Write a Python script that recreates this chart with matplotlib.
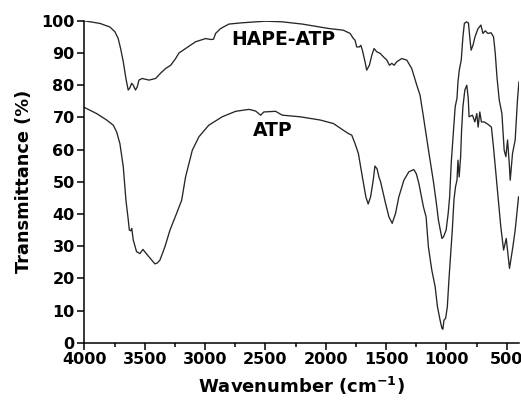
import numpy as np
import matplotlib
matplotlib.use('Agg')
import matplotlib.pyplot as plt
from matplotlib.ticker import MultipleLocator

# FTIR 光谱数据
hape_wn = [4000, 3950, 3871, 3789, 3747, 3720, 3700, 3678, 3656, 3637, 3623, 3609,
           3595, 3585, 3577, 3562, 3548, 3521, 3465, 3410, 3370, 3327, 3285, 3244,
           3217, 3162, 3079, 2996, 2950, 2930, 2913, 2872, 2803, 2693, 2499, 2361,
           2195, 1971, 1855, 1799, 1771, 1758, 1744, 1722, 1710, 1697, 1675, 1661,
           1639, 1619, 1600, 1578, 1550, 1522, 1494, 1473, 1453, 1434, 1412, 1370,
           1329, 1288, 1246, 1219, 1191, 1149, 1108, 1080, 1067, 1038, 1025, 1003,
           986, 974, 961, 942, 928, 913, 905, 894, 878, 864, 852, 835, 818, 805,
           796, 780, 764, 740, 715, 698, 679, 657, 630, 610, 596, 582, 563, 541,
           522, 508, 494, 480, 472, 453, 431, 412, 400]
hape_t = [100, 99.7, 99.2, 98.1, 96.6, 94.5, 91.4, 87.3, 82.1, 78.5, 79.2, 80.6,
          80.0, 79.2, 78.5, 79.5, 81.6, 82.1, 81.6, 82.1, 83.7, 85.2, 86.2, 88.3,
          90.0, 91.4, 93.5, 94.5, 94.2, 94.3, 96.1, 97.6, 99.0, 99.4, 99.9, 99.7,
          99.0, 97.6, 97.1, 96.1, 94.5, 94.0, 91.9, 91.9, 92.4, 90.9, 87.3, 84.7,
          86.2, 89.3, 91.4, 90.4, 89.9, 88.8, 87.8, 86.2, 86.8, 86.2, 87.3, 88.3,
          87.8, 85.2, 80.0, 76.9, 70.2, 59.8, 50.0, 42.2, 38.1, 32.4, 32.9, 35.0,
          40.2, 45.3, 55.7, 66.0, 73.3, 76.0, 81.0, 84.7, 87.8, 95.0, 99.2, 99.7, 99.3, 94.0,
          90.9, 92.5, 95.0, 97.5, 98.7, 96.1, 96.9, 96.1, 96.3, 95.0, 89.9, 82.6, 75.4, 71.2,
          59.8, 57.8, 63.0, 55.7, 50.5, 58.8, 63.0, 75.4, 81.0]

atp_wn = [4000, 3899, 3816, 3761, 3733, 3706, 3678, 3656, 3636, 3628, 3615, 3608,
          3595, 3568, 3540, 3515, 3490, 3443, 3415, 3395, 3374, 3333, 3291, 3236,
          3194, 3162, 3106, 3051, 2969, 2858, 2747, 2637, 2582, 2540, 2513, 2416,
          2361, 2213, 2047, 1937, 1854, 1813, 1785, 1758, 1730, 1702, 1690, 1668,
          1649, 1629, 1607, 1593, 1575, 1560, 1546, 1505, 1477, 1450, 1422, 1395,
          1353, 1312, 1271, 1250, 1229, 1191, 1169, 1150, 1122, 1094, 1075, 1053,
          1038, 1030, 1021, 1007, 993, 980, 952, 938, 925, 913, 905, 895, 883,
          875, 864, 848, 832, 820, 813, 785, 765, 749, 738, 724, 711, 688, 666,
          647, 628, 611, 578, 550, 527, 505, 478, 450, 431, 403]
atp_t = [73.1, 71.2, 69.2, 67.6, 65.5, 61.9, 54.7, 44.3, 38.0, 35.0, 34.8, 35.5,
         31.9, 28.3, 27.7, 29.0, 27.8, 25.7, 24.5, 24.8, 25.7, 29.8, 35.0, 40.2,
         44.3, 51.5, 59.8, 64.0, 67.6, 70.2, 71.9, 72.5, 72.0, 70.7, 71.7, 71.9,
         70.7, 70.2, 69.2, 68.1, 66.0, 65.0, 64.5, 61.9, 58.8, 52.6, 50.0, 45.3,
         43.1, 45.3, 50.5, 54.9, 54.0, 51.5, 50.0, 43.3, 39.1, 37.1, 40.2, 45.3,
         50.5, 53.1, 53.8, 52.5, 49.5, 42.2, 39.1, 29.8, 22.6, 17.4, 11.2, 7.0,
         4.5, 4.2, 7.0, 7.6, 11.2, 19.5, 35.0, 44.5, 48.5, 50.5, 56.7, 51.5, 57.8,
         66.0, 73.3, 78.5, 80.0, 76.0, 70.2, 70.7, 68.6, 71.2, 67.0, 71.7, 68.6, 68.6, 68.1,
         67.6, 67.0, 60.9, 47.4, 36.0, 28.8, 32.4, 23.1, 29.8, 35.0, 45.3]

labels = ['HAPE-ATP', 'ATP']
label_pos = [(2350, 94.2), (2443, 65.8)]

plt.rcParams['font.family'] = ['DejaVu Sans']
plt.rcParams['font.weight'] = 'bold'

fig = plt.figure(figsize=(5.21, 4.09), dpi=100)
ax = fig.add_axes([0.162, 0.162, 0.834, 0.787])

line_color = '#262626'
ax.plot(hape_wn, hape_t, color=line_color, lw=0.95)
ax.plot(atp_wn, atp_t, color=line_color, lw=0.95)

for text, (x, y) in zip(labels, label_pos):
    ax.text(x, y, text, ha='center', va='center', fontsize=13.5, fontweight='bold')

ax.set_xlim(4000, 400)
ax.set_ylim(0, 100)
ax.xaxis.set_major_locator(MultipleLocator(500))
ax.xaxis.set_minor_locator(MultipleLocator(250))
ax.yaxis.set_major_locator(MultipleLocator(10))

ax.spines['top'].set_visible(False)
ax.spines['right'].set_visible(False)
for s in ['left', 'bottom']:
    ax.spines[s].set_linewidth(1.1)
    ax.spines[s].set_color('black')

ax.tick_params(axis='both', which='major', direction='out', length=5, width=1.1,
               labelsize=11.5, pad=2)
ax.tick_params(axis='x', which='minor', direction='out', length=3, width=1.1)
for lab in ax.get_xticklabels() + ax.get_yticklabels():
    lab.set_fontweight('bold')

ax.set_xlabel('Wavenumber (cm$^{\\mathbf{-1}}$)', fontsize=13, fontweight='bold', labelpad=5)
ax.set_ylabel('Transmittance (%)', fontsize=12.8, fontweight='bold', labelpad=6)

plt.savefig('out.png', dpi=100)
plt.close()
